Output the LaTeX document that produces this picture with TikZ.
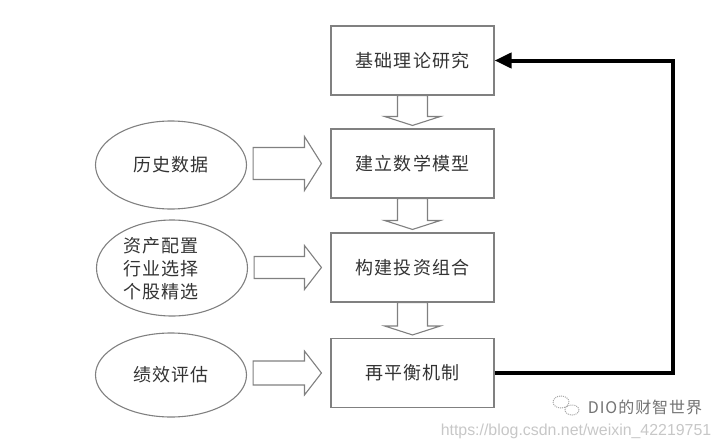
\documentclass[tikz,border=0pt]{standalone}
\usepackage{fontspec}
\newfontfamily\cjk[LetterSpace=6]{Noto Sans CJK SC}
\newfontfamily\urlfont{Liberation Sans}
\usetikzlibrary{calc,arrows.meta,shapes.geometric}

\begin{document}
\begin{tikzpicture}[
    x=1pt, y=-1pt,
    box/.style ={
        draw=black!50,
        line width=1.1pt,
        minimum width=163pt,
        minimum height=69pt,
        text=black!80,
        font=\cjk\fontsize{18}{23}\selectfont
    },
    src/.style ={
        ellipse,
        draw=black!50,
        line width=1.1pt,
        minimum width=151pt,
        minimum height=88pt,
        align=center,
        text=black!80,
        font=\cjk\fontsize{18}{23}\selectfont
    },
    hollow/.style ={
        draw=black!50,
        line width=1.1pt,
        fill=white,
        line join=miter
    },
    fb/.style ={
        line width=4pt,
        line join=miter,
        -{Triangle[length=17pt,width=15pt]}
    }
    ]
    \useasboundingbox (0,0) rectangle (718,447);

    \foreach \x/ \pos/ \txt in {{b1/(412.5,60.5)/基础理论研究}, {b2/(412.5,163.5)/建立数学模型},
                                {b3/(412.5,267.5)/构建投资组合}, {b4/(412.5,373)/再平衡机制}}
        \node[box] (\x) at \pos {\txt};

    \node[src] (e1) at (171,165) {历史数据};
    \node[src, minimum height=96pt] (e2) at (172,268) {};
    \node[align=left, text=black!80, font=\cjk\fontsize{18}{23}\selectfont] (e2t) at (161,269)
        {资产配置\\行业选择\\个股精选};
    \node[src, minimum height=84pt] (e3) at (171,375) {绩效评估};

    % hollow arrows between the boxes
    \foreach \src/ \dst in {b1/b2, b2/b3, b3/b4}
        \draw[hollow] let \p1=(\src.south), \p2=($(\dst.north)+(0,-3)$) in
            (\x1-15pt,\y1) -- (\x1+15pt,\y1) -- (\x1+15pt,\y2+9pt) -- (\x1+28pt,\y2+9pt)
            -- (\x1,\y2) -- (\x1-28pt,\y2+9pt) -- (\x1-15pt,\y2+9pt) -- cycle;

    % hollow arrows from the inputs
    \foreach \src/ \dst/ \w/ \h in {e1/b2/16/27, e2/b3/11/22, e3/b4/12/22}
        \draw[hollow] let \p1=($(\src.east)+(6,0)$), \p2=($(\dst.west)+(-9,0)$) in
            (\x1,\y2+\w pt) -- (\x2-17pt,\y2+\w pt) -- (\x2-17pt,\y2+\h pt) -- (\x2,\y2)
            -- (\x2-17pt,\y2-\h pt) -- (\x2-17pt,\y2-\w pt) -- (\x1,\y2-\w pt) -- cycle;

    % feedback loop
    \draw[fb] (b4.east) -- ++(178,0) |- (b1.east);

    % watermark
    \draw[black!35, densely dotted, line width=1pt] (561,402) ellipse (8pt and 6pt);
    \draw[black!35, densely dotted, line width=1pt] (572,410) ellipse (7pt and 5pt);
    \node[text=black!55, font=\cjk\fontsize{16}{18}\selectfont] (wm) at (645,407) {DIO的财智世界};
    \node[text=black!22, font=\urlfont\fontsize{15.9}{17}\selectfont] (url) at (576,431)
        {https://blog.csdn.net/weixin\_42219751};

\end{tikzpicture}
\end{document}
